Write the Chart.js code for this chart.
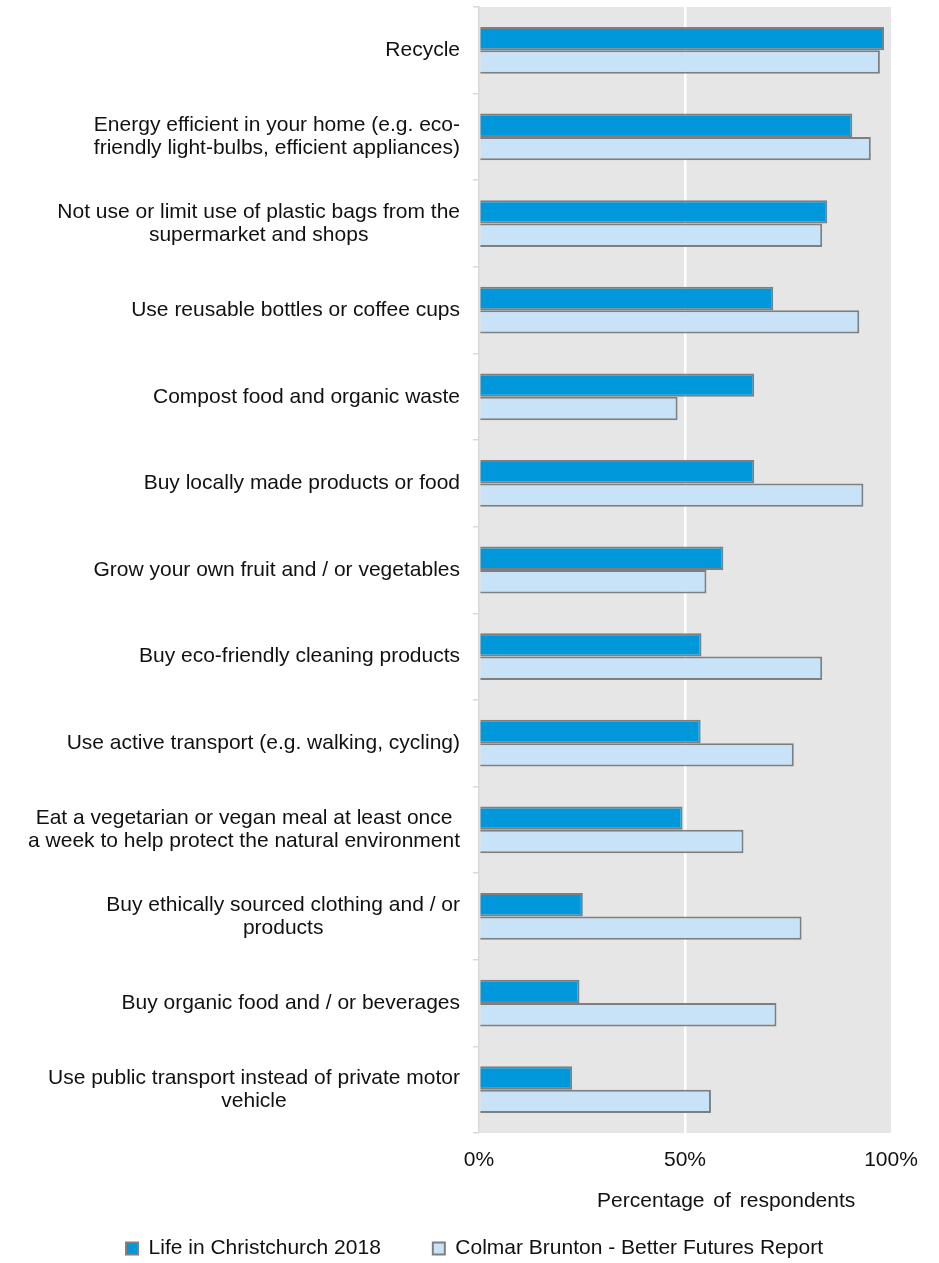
<!DOCTYPE html>
<html>
<head>
<meta charset="utf-8">
<script src="https://cdn.jsdelivr.net/npm/chart.js@4/dist/chart.umd.min.js"></script>
<style>
  html, body { margin: 0; padding: 0; background: #ffffff; }
  #wrap { width: 939px; height: 1263px; position: relative; }
</style>
</head>
<body>
<div id="wrap"><canvas id="chart"></canvas></div>
<script>
// Sustainable behaviours: share of respondents who do each one
const categories = [
  'Recycle',
  ['Energy efficient in your home (e.g. eco-', 'friendly light-bulbs, efficient appliances)'],
  ['Not use or limit use of plastic bags from the', 'supermarket and shops'],
  'Use reusable bottles or coffee cups',
  'Compost food and organic waste',
  'Buy locally made products or food',
  'Grow your own fruit and / or vegetables',
  'Buy eco-friendly cleaning products',
  'Use active transport (e.g. walking, cycling)',
  ['Eat a vegetarian or vegan meal at least once', 'a week to help protect the natural environment'],
  ['Buy ethically sourced clothing and / or', 'products'],
  'Buy organic food and / or beverages',
  ['Use public transport instead of private motor', 'vehicle']
];

const lifeInChristchurch2018 = [98.3, 90.6, 84.5, 71.4, 66.8, 66.8, 59.3, 54.0, 53.8, 49.4, 25.2, 24.4, 22.6];
const colmarBruntonBetterFutures = [97.3, 95.1, 83.3, 92.3, 48.2, 93.3, 55.2, 83.3, 76.4, 64.2, 78.3, 72.2, 56.3];

const seriesNames = ['Life in Christchurch 2018', 'Colmar Brunton - Better Futures Report'];
const xTickValues = [0, 50, 100];
const xAxisTitle = 'Percentage of respondents';

const FONT = '"Liberation Sans", Arial, sans-serif';
const TEXT = '#111111';
const PAD_LEFT = 58;

// Grey plotting background behind the bars
const plotBackground = {
  id: 'plotBackground',
  beforeDraw(chart) {
    const { ctx, chartArea: a } = chart;
    ctx.save();
    ctx.fillStyle = '#E6E6E6';
    ctx.fillRect(a.left, a.top, a.right - a.left, a.bottom - a.top);
    ctx.restore();
  }
};

// Category labels: each block right-aligned to the axis, its lines centred on one another
const categoryLabels = {
  id: 'categoryLabels',
  afterDraw(chart) {
    const { ctx } = chart;
    const y = chart.scales.y;
    const right = y.right - 19;
    const lineH = 23;
    ctx.save();
    ctx.font = '21px ' + FONT;
    ctx.fillStyle = TEXT;
    ctx.textAlign = 'center';
    ctx.textBaseline = 'middle';
    chart.data.labels.forEach((lab, i) => {
      const lines = Array.isArray(lab) ? lab : [lab];
      const w = Math.max(...lines.map(l => ctx.measureText(l).width));
      const cx = right - w / 2;
      const cy = y.getPixelForTick(i);
      lines.forEach((l, k) => {
        ctx.fillText(l, cx, cy + (k - (lines.length - 1) / 2) * lineH);
      });
    });
    ctx.restore();
  }
};

// Value axis title, set to the right of the axis centre
const valueAxisTitle = {
  id: 'valueAxisTitle',
  afterDraw(chart) {
    const { ctx, chartArea: a } = chart;
    ctx.save();
    ctx.font = '21px ' + FONT;
    ctx.fillStyle = TEXT;
    ctx.textAlign = 'center';
    ctx.textBaseline = 'alphabetic';
    if ('wordSpacing' in ctx) ctx.wordSpacing = '3px';
    ctx.fillText(xAxisTitle, a.left + (a.right - a.left) * 0.6, a.bottom + 74);
    ctx.restore();
  }
};

new Chart(document.getElementById('chart'), {
  type: 'bar',
  data: {
    labels: categories,
    datasets: [
      {
        label: seriesNames[0],
        data: lifeInChristchurch2018,
        backgroundColor: '#0098DA',
        borderColor: '#7F7F7F',
        borderWidth: 2
      },
      {
        label: seriesNames[1],
        data: colmarBruntonBetterFutures,
        backgroundColor: '#C8E3F7',
        borderColor: '#7F7F7F',
        borderWidth: 2
      }
    ]
  },
  options: {
    indexAxis: 'y',
    responsive: true,
    maintainAspectRatio: false,
    animation: false,
    datasets: {
      bar: { categoryPercentage: 0.54, barPercentage: 1.0 }
    },
    layout: { padding: { top: 7, left: PAD_LEFT, right: 48, bottom: -6 } },
    scales: {
      x: {
        min: 0,
        max: 100,
        afterBuildTicks(scale) {
          scale.ticks = xTickValues.map(v => ({ value: v }));
        },
        afterFit(scale) { scale.height = 53; },
        ticks: {
          padding: 15,
          color: TEXT,
          font: { family: FONT, size: 21 },
          callback: v => v + '%'
        },
        grid: {
          drawTicks: false,
          lineWidth: 2.5,
          color: ctx => (ctx.tick && ctx.tick.value === 50 ? '#FFFFFF' : 'rgba(0,0,0,0)')
        },
        border: { display: false }
      },
      y: {
        afterFit(scale) { scale.width = 479 - PAD_LEFT; },
        ticks: { display: false },
        grid: {
          offset: true,
          drawOnChartArea: false,
          drawTicks: true,
          tickLength: 6,
          color: '#D9D9D9',
          lineWidth: 1.5
        },
        border: { display: true, color: '#D9D9D9', width: 1.5 }
      }
    },
    plugins: {
      legend: {
        position: 'bottom',
        labels: {
          boxWidth: 12,
          boxHeight: 12,
          padding: 52,
          color: TEXT,
          font: { family: FONT, size: 21 }
        }
      },
      tooltip: { enabled: false }
    }
  },
  plugins: [plotBackground, categoryLabels, valueAxisTitle]
});
</script>
</body>
</html>
